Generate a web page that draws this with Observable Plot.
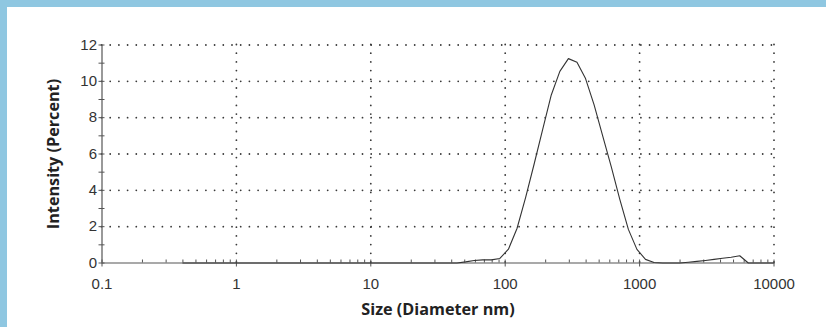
<!DOCTYPE html>
<html><head><meta charset="utf-8">
<script src="https://cdn.jsdelivr.net/npm/d3@7"></script>
<script src="https://cdn.jsdelivr.net/npm/@observablehq/plot@0.6"></script>
<style>
html,body{margin:0;padding:0;background:#8fc7e1;width:826px;height:327px;overflow:hidden}
#panel{position:absolute;left:7px;top:7px;width:819px;height:320px;background:#fff}
#panel svg [aria-label="x-axis label"] text,
#panel svg [aria-label="y-axis label"] text{font-family:"Open Sans","Noto Sans",sans-serif;font-weight:700;font-size:16.2px;fill:#222}
#panel svg [aria-label="x-axis tick label"] text,
#panel svg [aria-label="y-axis tick label"] text{font-family:"Liberation Sans",Arial,sans-serif;font-size:15px;fill:#333}
</style></head><body><div id="panel"></div>
<script>
// Size bins (nm) and intensity (%)
const sizes = [0.4, 0.4632, 0.5365, 0.6213, 0.7195, 0.8332, 0.9649, 1.117, 1.294, 1.499,
  1.736, 2.010, 2.328, 2.696, 3.122, 3.615, 4.187, 4.849, 5.615, 6.503,
  7.531, 8.721, 10.10, 11.70, 13.54, 15.69, 18.17, 21.04, 24.36, 28.21,
  32.67, 37.84, 43.82, 50.75, 58.77, 68.06, 78.82, 91.28, 105.7, 122.4,
  141.8, 164.2, 190.1, 220.2, 255.0, 295.3, 342.0, 396.1, 458.7, 531.2,
  615.1, 712.4, 825.0, 955.4, 1106, 1281, 1484, 1718, 1990, 2305,
  2669, 3091, 3580, 4145, 4801, 5560, 6439, 7456, 8635, 10000];
const intensity = [0, 0, 0, 0, 0, 0, 0, 0, 0, 0,
  0, 0, 0, 0, 0, 0, 0, 0, 0, 0,
  0, 0, 0, 0, 0, 0, 0, 0, 0, 0,
  0, 0, 0, 0.06, 0.14, 0.17, 0.17, 0.25, 0.76, 1.9,
  3.6, 5.45, 7.35, 9.25, 10.55, 11.25, 11.05, 10.15, 8.7, 7.0,
  5.3, 3.5, 1.85, 0.75, 0.2, 0.03, 0, 0, 0, 0.04,
  0.09, 0.14, 0.2, 0.26, 0.32, 0.4, 0, 0, 0, 0];

const xTicks = [0.1, 1, 10, 100, 1000, 10000];
const xTickLabels = ["0.1", "1", "10", "100", "1000", "10000"];
const xMinorTicks = [0.2,0.3,0.4,0.5,0.6,0.7,0.8,0.9, 2,3,4,5,6,7,8,9, 20,30,40,50,60,70,80,90,
  200,300,400,500,600,700,800,900, 2000,3000,4000,5000,6000,7000,8000,9000];
const yTicks = [0, 2, 4, 6, 8, 10, 12];
const yMinorTicks = [1, 3, 5, 7, 9, 11];
const xTitle = "Size (Diameter nm)";
const yTitle = "Intensity (Percent)";

const data = sizes.map((s, i) => ({size: s, value: intensity[i]}));
const dotted = {stroke: "#3a3a3a", strokeOpacity: 1, strokeWidth: 1.8, strokeDasharray: "0,8.7", strokeLinecap: "round"};

const chart = Plot.plot({
  width: 819, height: 320,
  marginLeft: 94.5, marginRight: 52.5, marginTop: 37.5, marginBottom: 64.5,
  x: {type: "log", domain: [0.1, 10000]},
  y: {domain: [0, 12]},
  style: {fontFamily: '"Liberation Sans", Arial, sans-serif', fontSize: "14px", color: "#333", background: "#fff"},
  marks: [
    Plot.gridY(yTicks.slice(1), dotted),
    Plot.gridX(xTicks.slice(1), dotted),
    Plot.ruleY([0], {stroke: "#555", strokeWidth: 1.2}),
    Plot.ruleX([0.1], {stroke: "#555", strokeWidth: 1.2}),
    Plot.axisY(yTicks.concat(yMinorTicks), {tickSize: 6, dx: 3, text: null, label: null, stroke: "#555"}),
    Plot.axisY(yTicks, {tickSize: 0, tickPadding: 5, fill: "#333", fontSize: 15, label: yTitle, labelAnchor: "center", labelOffset: 55, labelArrow: "none"}),
    Plot.axisX(xTicks, {tickSize: 7, dy: -3, text: null, label: null, stroke: "#555"}),
    Plot.axisX(xMinorTicks, {tickSize: 3, dy: -3, text: null, label: null, stroke: "#555"}),
    Plot.axisX(xTicks, {tickSize: 0, tickPadding: 15, fill: "#333", fontSize: 15, tickFormat: d => xTickLabels[xTicks.indexOf(d)], label: xTitle, labelAnchor: "center", labelOffset: 52, labelArrow: "none"}),
    Plot.line(data, {x: "size", y: "value", stroke: "#333", strokeWidth: 1.1})
  ]
});
document.getElementById("panel").appendChild(chart);
</script></body></html>
